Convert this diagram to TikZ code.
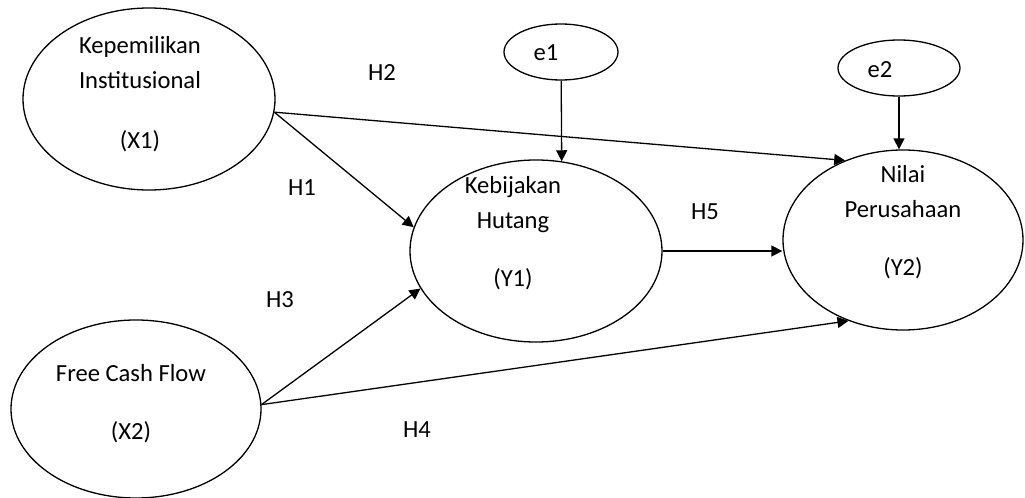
\documentclass[tikz,border=0pt]{standalone}
\usepackage{fontspec}
\setmainfont{Carlito}
\usetikzlibrary{positioning, shapes.geometric, arrows.meta}

\begin{document}
\begin{tikzpicture}[x=0.5pt, y=-0.5pt,
                latent/.style={draw=black, line width=0.65pt, ellipse, inner sep=0pt},
                errvar/.style={draw=black, line width=0.65pt, ellipse, inner sep=0pt, minimum height=28pt},
                varlabel/.style={align=center, font=\fontsize{12.3}{17.5}\selectfont},
                hyplabel/.style={font=\fontsize{12.3}{15}\selectfont},
                edge/.style={line width=0.65pt, -{Triangle[length=5.5pt, width=5.5pt]}}
            ]
            \useasboundingbox (0,0) rectangle (1025,498);

            % Knoten
            \node[latent, minimum width=126pt, minimum height=91pt] (X1) at (149,99) {};
            \node[latent, minimum width=125pt, minimum height=89pt] (X2) at (136,409) {};
            \node[latent, minimum width=126pt, minimum height=91pt] (Y1) at (536,251) {};
            \node[latent, minimum width=120pt, minimum height=90pt] (Y2) at (903,240) {};
            \node[errvar, minimum width=57pt] (e1) at (561,52) {};
            \node[errvar, minimum width=61pt] (e2) at (899,68) {};

            % Beschriftungen
            \node[varlabel] (X1t) at (140,94.5) {Kepemilikan\\Institusional\\[12.5pt](X1)};
            \node[varlabel] (X2t) at (131,404) {Free Cash Flow\\[11.5pt](X2)};
            \node[varlabel] (Y1t) at (513,233.5) {Kebijakan\\Hutang\\[11.5pt](Y1)};
            \node[varlabel] (Y2t) at (903,222.5) {Nilai\\Perusahaan\\[11.5pt](Y2)};
            \node[varlabel] (e1t) at (546,53) {e1};
            \node[varlabel] (e2t) at (880,70) {e2};

            \node[hyplabel] (H1) at (302,188) {H1};
            \node[hyplabel] (H2) at (382,73) {H2};
            \node[hyplabel] (H3) at (280,300) {H3};
            \node[hyplabel] (H4) at (417,430) {H4};
            \node[hyplabel] (H5) at (705,212) {H5};

            % Kanten zwischen Knoten
            \draw[edge] (X1.-6) -- (Y1.169);
            \draw[edge] (X1.-6) -- (Y2.126);
            \draw[edge] (X2.2) -- (Y1.198);
            \draw[edge] (X2.2) -- (Y2.236);
            \draw[edge] (Y1.east) -- (Y1.east -| Y2.west);
            \draw[edge] (e1) -- (Y1.74);
            \draw[edge] (e2.south) -- (e2.south |- Y2.north);

        \end{tikzpicture}
\end{document}
